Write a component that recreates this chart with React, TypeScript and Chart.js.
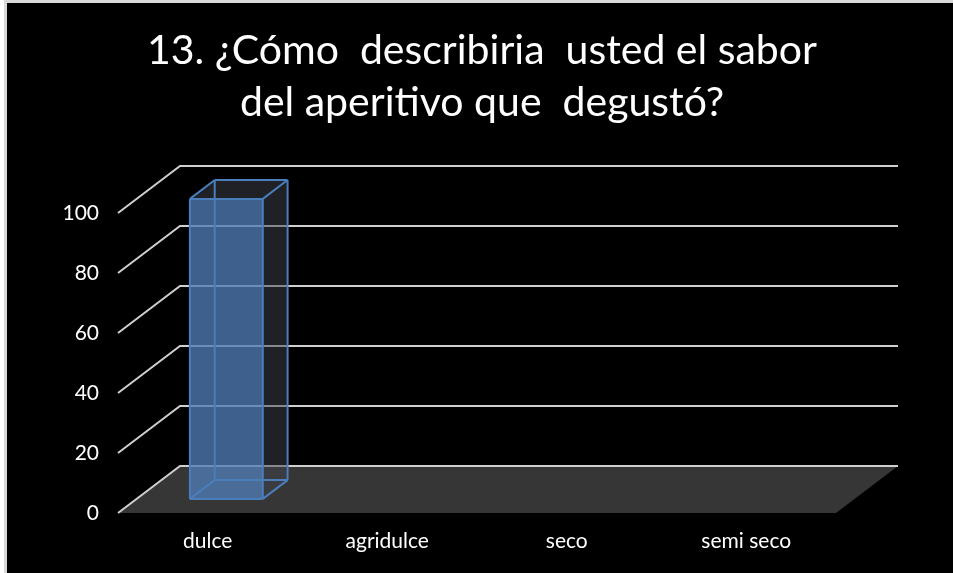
import React, { useEffect, useRef } from 'react';
import { Chart, registerables } from 'chart.js';

Chart.register(...registerables);

const titleLines = ['13. ¿Cómo  describiria  usted el sabor', 'del aperitivo que  degustó?'];
const categories = ['dulce', 'agridulce', 'seco', 'semi seco'];
const values = [100, 0, 0, 0];
const yMin = 0;
const yMax = 100;
const yStep = 20;

const W = 953;
const H = 573;
const DX = 62;
const DY = -47;
const F1 = 0.3;
const F2 = 0.7;

const framePlugin = {
  id: 'frame',
  beforeDraw(chart: any) {
    const ctx = chart.ctx;
    ctx.save();
    ctx.fillStyle = '#ffffff';
    ctx.fillRect(0, 0, W, H);
    ctx.fillStyle = '#d9d9d9';
    ctx.fillRect(4, 0, W - 4, H);
    ctx.fillStyle = '#000000';
    ctx.fillRect(7, 3, W - 7, H - 3);
    ctx.restore();
  },
};

const wallsPlugin = {
  id: 'walls',
  beforeDatasetsDraw(chart: any) {
    const ctx = chart.ctx;
    const { left, right } = chart.chartArea;
    const y = chart.scales.y;
    const y0 = y.getPixelForValue(yMin);
    ctx.save();
    ctx.fillStyle = '#363636';
    ctx.beginPath();
    ctx.moveTo(left, y0);
    ctx.lineTo(right, y0);
    ctx.lineTo(right + DX, y0 + DY);
    ctx.lineTo(left + DX, y0 + DY);
    ctx.closePath();
    ctx.fill();
    ctx.strokeStyle = '#cfcfcf';
    ctx.lineWidth = 2;
    y.ticks.forEach((t: any) => {
      const py = y.getPixelForValue(t.value);
      ctx.beginPath();
      ctx.moveTo(left, py);
      ctx.lineTo(left + DX, py + DY);
      ctx.lineTo(right + DX, py + DY);
      ctx.stroke();
    });
    ctx.restore();
  },
};

const barsPlugin = {
  id: 'bars3d',
  afterDatasetsDraw(chart: any) {
    const ctx = chart.ctx;
    const meta = chart.getDatasetMeta(0);
    const fx = F1 * DX, fy = F1 * DY, bx = F2 * DX, by = F2 * DY;
    ctx.save();
    meta.data.forEach((el: any, i: number) => {
      if (!values[i]) return;
      const p = el.getProps(['x', 'y', 'base', 'width'], true);
      const x0 = p.x - p.width / 2;
      const x1 = p.x + p.width / 2;
      const top = p.y;
      const base = p.base;
      const poly = (pts: number[][]) => {
        ctx.beginPath();
        ctx.moveTo(pts[0][0], pts[0][1]);
        for (let k = 1; k < pts.length; k++) ctx.lineTo(pts[k][0], pts[k][1]);
        ctx.closePath();
      };
      ctx.fillStyle = 'rgba(62,66,76,0.5)';
      poly([[x1 + fx, top + fy], [x1 + bx, top + by], [x1 + bx, base + by], [x1 + fx, base + fy]]);
      ctx.fill();
      poly([[x0 + fx, top + fy], [x0 + bx, top + by], [x1 + bx, top + by], [x1 + fx, top + fy]]);
      ctx.fill();
      ctx.fillStyle = 'rgba(79,123,180,0.78)';
      poly([[x0 + fx, top + fy], [x1 + fx, top + fy], [x1 + fx, base + fy], [x0 + fx, base + fy]]);
      ctx.fill();
      ctx.strokeStyle = '#4a7ebb';
      ctx.lineWidth = 2;
      const seg = (a: number[], b: number[]) => {
        ctx.beginPath();
        ctx.moveTo(a[0], a[1]);
        ctx.lineTo(b[0], b[1]);
        ctx.stroke();
      };
      const F = (xx: number, yy: number) => [xx + fx, yy + fy];
      const B = (xx: number, yy: number) => [xx + bx, yy + by];
      seg(B(x0, top), B(x1, top));
      seg(B(x1, top), B(x1, base));
      seg(B(x1, base), B(x0, base));
      seg(B(x0, base), B(x0, top));
      seg(F(x0, top), F(x1, top));
      seg(F(x1, top), F(x1, base));
      seg(F(x1, base), F(x0, base));
      seg(F(x0, base), F(x0, top));
      seg(F(x0, top), B(x0, top));
      seg(F(x1, top), B(x1, top));
      seg(F(x1, base), B(x1, base));
      seg(F(x0, base), B(x0, base));
    });
    ctx.restore();
  },
};

export default function App() {
  const ref = useRef<HTMLCanvasElement | null>(null);
  useEffect(() => {
    if (!ref.current) return;
    const chart = new Chart(ref.current, {
      type: 'bar',
      data: {
        labels: categories,
        datasets: [
          {
            data: values,
            backgroundColor: 'rgba(0,0,0,0)',
            borderWidth: 0,
            categoryPercentage: 1,
            barPercentage: 0.406,
          },
        ],
      },
      options: {
        animation: false,
        responsive: false,
        devicePixelRatio: 1,
        layout: { padding: { left: 11, right: 0, top: 0, bottom: 0 } },
        plugins: {
          legend: { display: false },
          tooltip: { enabled: false },
          title: {
            display: true,
            text: titleLines,
            color: '#ffffff',
            font: { family: 'Lato', size: 41, weight: 'normal', lineHeight: 1.268 },
            padding: { top: 25, bottom: 84 },
          },
        },
        scales: {
          x: {
            grid: { display: false, drawTicks: false },
            border: { display: false },
            ticks: { color: '#ffffff', font: { family: 'Lato', size: 21 }, padding: 16, maxRotation: 0, autoSkip: false },
            afterFit: (s: any) => { s.height = 60; },
          },
          y: {
            min: yMin,
            max: yMax,
            grid: { display: false, drawTicks: false },
            border: { display: false },
            ticks: { stepSize: yStep, color: '#ffffff', font: { family: 'Lato', size: 21 }, padding: 19 },
            afterFit: (s: any) => { s.width = 107; },
          },
          y2: {
            position: 'right',
            display: true,
            grid: { display: false, drawTicks: false },
            border: { display: false },
            ticks: { display: false },
            afterFit: (s: any) => { s.width = 117; },
          },
        },
      } as any,
      plugins: [framePlugin, wallsPlugin, barsPlugin],
    });
    return () => chart.destroy();
  }, []);
  return (
    <div style={{ position: 'fixed', left: 0, top: 0, width: W, height: H }}>
      <canvas ref={ref} width={W} height={H} style={{ display: 'block' }} />
    </div>
  );
}
